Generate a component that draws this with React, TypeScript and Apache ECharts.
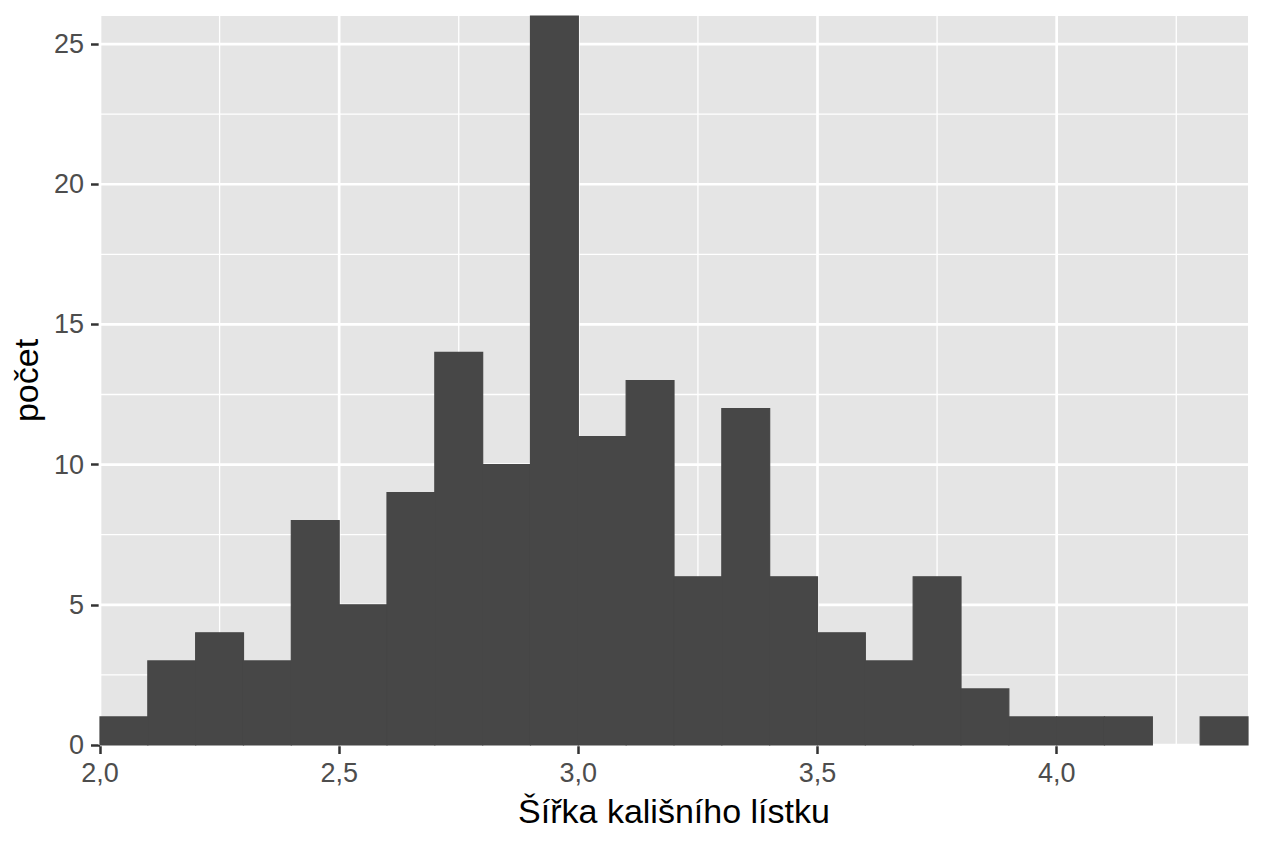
import React, { useEffect, useRef } from "react";
import * as echarts from "echarts";

// Histogram data: bin starts (width 0.1) and counts
const binStarts = [2.0, 2.1, 2.2, 2.3, 2.4, 2.5, 2.6, 2.7, 2.8, 2.9, 3.0, 3.1, 3.2, 3.3, 3.4, 3.5, 3.6, 3.7, 3.8, 3.9, 4.0, 4.1, 4.2, 4.3];
const counts = [1, 3, 4, 3, 8, 5, 9, 14, 10, 26, 11, 13, 6, 12, 6, 4, 3, 6, 2, 1, 1, 1, 0, 1];
const binWidth = 0.1;

const xTicks = [2.0, 2.5, 3.0, 3.5, 4.0];
const yTicks = [0, 5, 10, 15, 20, 25];
const xMinor = [2.25, 2.75, 3.25, 3.75, 4.25];
const yMinor = [2.5, 7.5, 12.5, 17.5, 22.5];

const xTitle = "Šířka kališního lístku";
const yTitle = "počet";

const X_MIN = 2.0;
const X_MAX = 4.4;
const Y_MIN = 0;
const Y_MAX = 26;

const FONT = "'Liberation Sans', Arial, sans-serif";

export default function App() {
  const ref = useRef<HTMLDivElement>(null);

  useEffect(() => {
    document.body.style.margin = "0";
    if (!ref.current) return;
    const chart = echarts.init(ref.current, undefined, { renderer: "svg" });

    const barData = binStarts
      .map((s, i) => [s, +(s + binWidth).toFixed(2), counts[i]])
      .filter((d) => d[2] > 0);

    const vLines = [
      ...xMinor.map((v) => [v, Y_MIN, 1.3]),
      ...xTicks.map((v) => [v, Y_MIN, 2.7]),
    ];
    const hLines = [
      ...yMinor.map((v) => [X_MIN, v, 1.3]),
      ...yTicks.map((v) => [X_MIN, v, 2.7]),
    ];

    const fmt = (v: number) => v.toFixed(1).replace(".", ",");

    chart.setOption({
      animation: false,
      grid: {
        left: 100,
        top: 16,
        width: 1148,
        height: 729,
        show: true,
        backgroundColor: "#e5e5e5",
        borderWidth: 0,
      },
      xAxis: {
        type: "value",
        min: X_MIN,
        max: X_MAX,
        splitLine: { show: false },
        axisLine: { show: false },
        axisTick: {
          show: true,
          customValues: xTicks,
          length: 9,
          lineStyle: { color: "#333333", width: 2.5 },
        },
        axisLabel: {
          customValues: xTicks,
          formatter: (v: number) => fmt(v),
          fontSize: 27,
          color: "#4d4d4d",
          fontFamily: FONT,
          margin: 14,
        },
        name: xTitle,
        nameLocation: "middle",
        nameGap: 49,
        nameTextStyle: { fontSize: 34, color: "#000", fontFamily: FONT },
      },
      yAxis: {
        type: "value",
        min: Y_MIN,
        max: Y_MAX,
        splitLine: { show: false },
        axisLine: { show: false },
        axisTick: {
          show: true,
          customValues: yTicks,
          length: 9,
          lineStyle: { color: "#333333", width: 2.5 },
        },
        axisLabel: {
          customValues: yTicks,
          formatter: (v: number) => String(v),
          fontSize: 27,
          color: "#4d4d4d",
          fontFamily: FONT,
          margin: 16,
        },
        name: yTitle,
        nameLocation: "middle",
        nameGap: 48,
        nameTextStyle: { fontSize: 34, color: "#000", fontFamily: FONT },
      },
      series: [
        {
          type: "custom",
          z: 1,
          silent: true,
          data: vLines,
          renderItem: (params: any, api: any) => {
            const x = api.value(0);
            const p0 = api.coord([x, Y_MIN]);
            const p1 = api.coord([x, Y_MAX]);
            return {
              type: "line",
              shape: { x1: p0[0], y1: p0[1], x2: p1[0], y2: p1[1] },
              style: { stroke: "#ffffff", lineWidth: api.value(2) },
            };
          },
        },
        {
          type: "custom",
          z: 1,
          silent: true,
          data: hLines,
          renderItem: (params: any, api: any) => {
            const y = api.value(1);
            const p0 = api.coord([X_MIN, y]);
            const p1 = api.coord([X_MAX, y]);
            return {
              type: "line",
              shape: { x1: p0[0], y1: p0[1], x2: p1[0], y2: p1[1] },
              style: { stroke: "#ffffff", lineWidth: api.value(2) },
            };
          },
        },
        {
          type: "custom",
          z: 3,
          data: barData,
          encode: { x: [0, 1], y: 2 },
          renderItem: (params: any, api: any) => {
            const a = api.coord([api.value(0), api.value(2)]);
            const b = api.coord([api.value(1), 0]);
            return {
              type: "rect",
              shape: { x: a[0], y: a[1], width: b[0] - a[0], height: b[1] - a[1] },
              style: { fill: "#474747", stroke: "#474747", lineWidth: 1.2 },
            };
          },
        },
      ],
    });

    return () => chart.dispose();
  }, []);

  return <div ref={ref} style={{ width: 1264, height: 843 }} />;
}
